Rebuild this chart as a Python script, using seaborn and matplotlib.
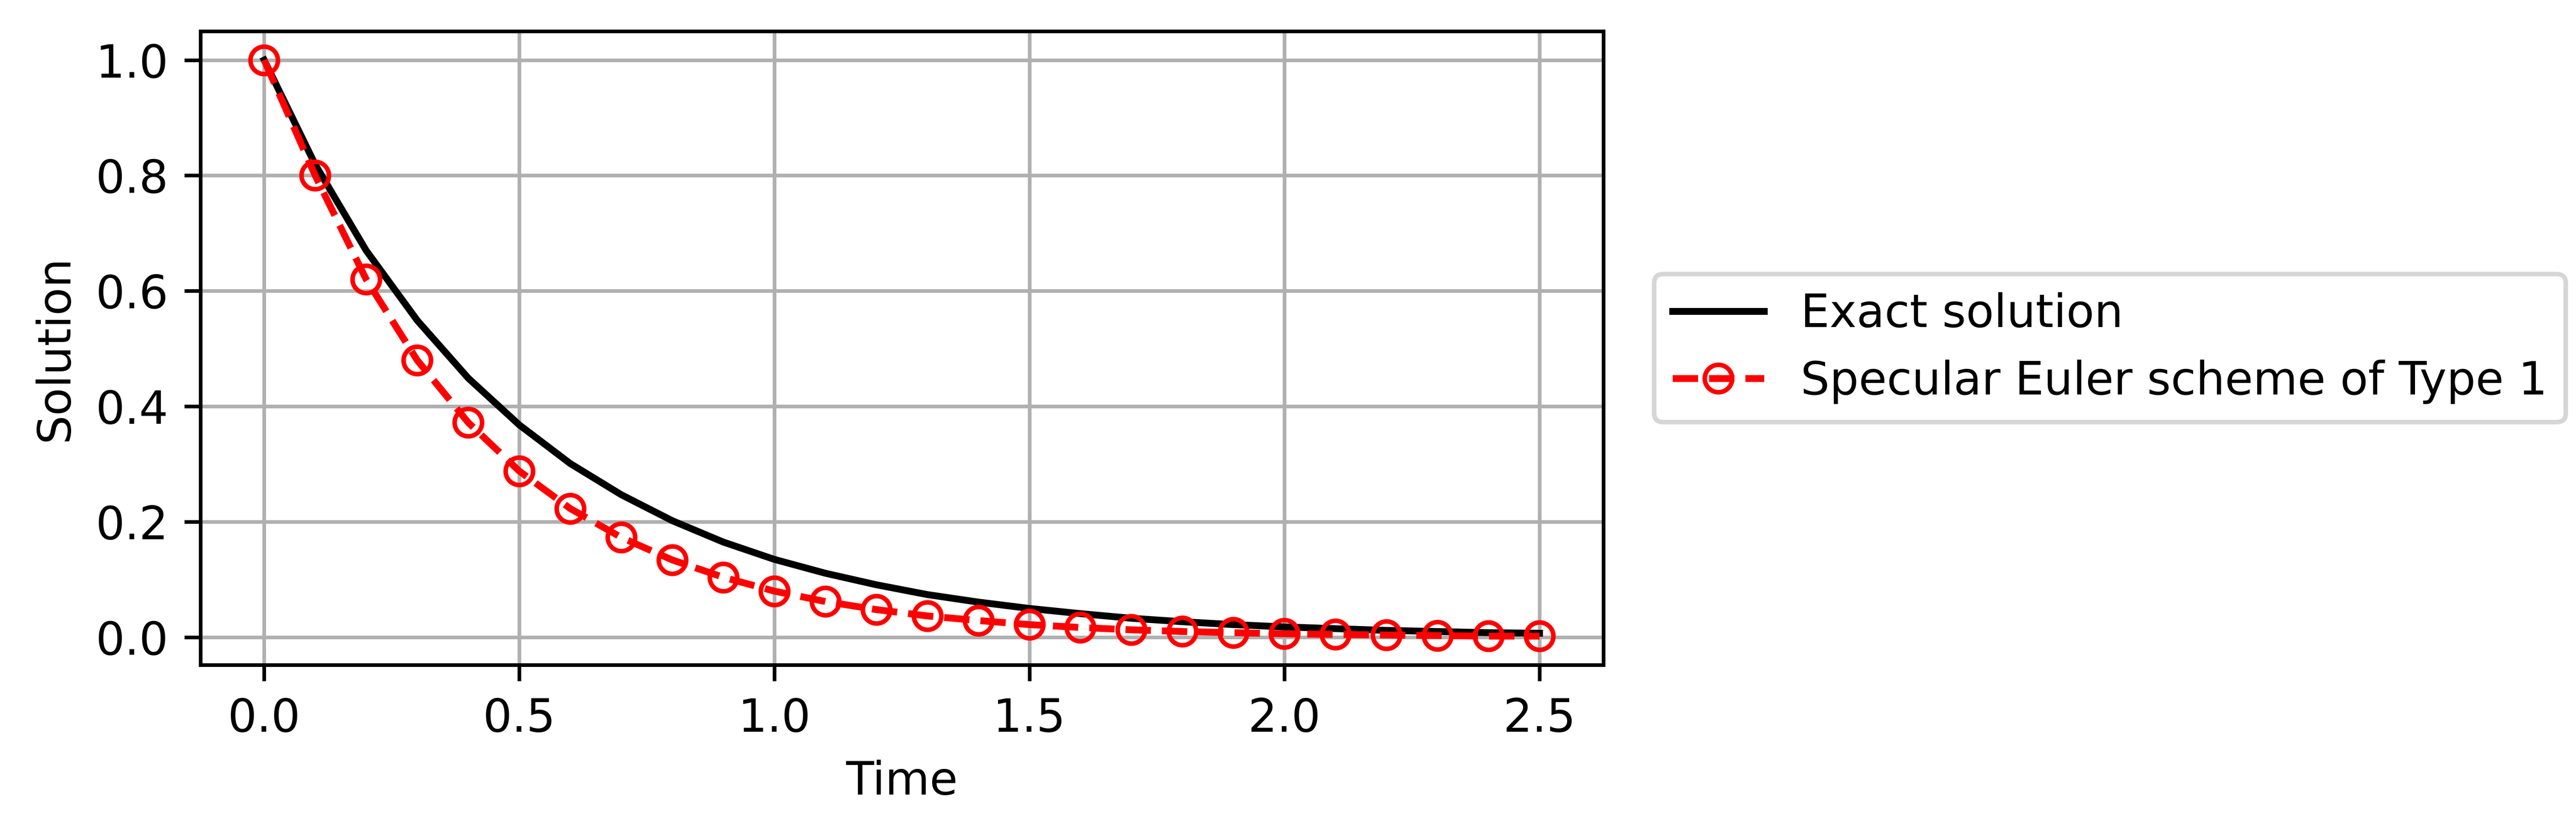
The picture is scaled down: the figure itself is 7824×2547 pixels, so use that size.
import matplotlib
matplotlib.use("Agg")
import matplotlib.pyplot as plt
import seaborn as sns

# Time grid and solutions
time = [0.0, 0.1, 0.2, 0.3, 0.4, 0.5, 0.6, 0.7, 0.8, 0.9, 1.0, 1.1, 1.2,
        1.3, 1.4, 1.5, 1.6, 1.7, 1.8, 1.9, 2.0, 2.1, 2.2, 2.3, 2.4, 2.5]
exact = [1.0, 0.819, 0.670, 0.549, 0.449, 0.368, 0.301, 0.247, 0.202, 0.165,
         0.135, 0.111, 0.091, 0.074, 0.061, 0.050, 0.041, 0.033, 0.027,
         0.022, 0.018, 0.015, 0.012, 0.010, 0.008, 0.007]
specular = [1.0, 0.800, 0.620, 0.480, 0.372, 0.288, 0.223, 0.173, 0.134,
            0.104, 0.080, 0.062, 0.048, 0.037, 0.029, 0.022, 0.017, 0.013,
            0.010, 0.008, 0.006, 0.005, 0.004, 0.003, 0.002, 0.002]

fig = plt.figure(figsize=(7.824, 2.547), dpi=1000)
ax = fig.add_axes([0.0778, 0.2065, 0.5446, 0.7562])

sns.lineplot(x=time, y=exact, color="black", linewidth=1.5,
             label="Exact solution", ax=ax)
sns.lineplot(x=time, y=specular, color="red", linestyle="--", linewidth=1.5,
             marker="o", markersize=6, markerfacecolor="none",
             markeredgecolor="red", markeredgewidth=1.0,
             label="Specular Euler scheme of Type 1", ax=ax)

ax.set_xlabel("Time")
ax.set_ylabel("Solution")
ax.grid(True)
ax.legend(loc="center left", bbox_to_anchor=(1.02, 0.5))

plt.savefig("out.png", dpi=1000)
plt.close()
